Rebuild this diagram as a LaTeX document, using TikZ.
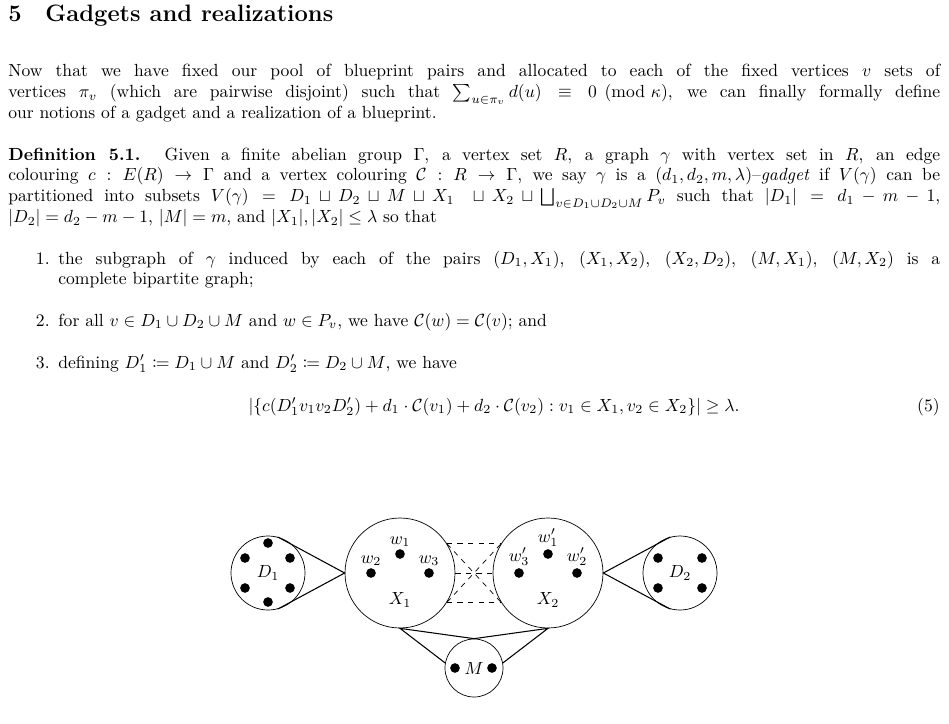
\documentclass[tikz,border=0pt]{standalone}
\usepackage{amsmath,amssymb,mathtools}
\usepackage{tikz}
\usetikzlibrary{positioning,calc}

\tikzset{
  txt/.style = {anchor = base west, inner sep = 0pt, font = \fontsize{10}{11.9}\selectfont},
  blob/.style = {draw, circle, inner sep = 0pt},
  pt/.style = {fill = black, circle, inner sep = 0pt, minimum size = 5.5pt},
  wlab/.style = {label = {[inner sep = 1pt]above:#1}},
  link/.style = {semithick},
  cross/.style = {dashed, thin}
}
\newcommand{\parblock}[2]{\parbox[t]{#1}{\fontsize{10}{11.9}\selectfont #2}}

\begin{document}
\begin{tikzpicture}[x = 0.02cm, y = -0.02cm]

\useasboundingbox (0, 0) rectangle (949, 723);

% section heading
\node[anchor = base west, inner sep = 0pt, font = \fontsize{13.5}{16}\bfseries] (head) at (8, 22) {5\hspace{1em}Gadgets and realizations};

\node[txt] (par1) at (8, 77) {\parblock{18.64cm}{Now that we have fixed our pool of blueprint pairs and allocated to each of the fixed vertices $v$ sets of\linebreak vertices $\pi_v$ (which are pairwise disjoint) such that $\sum_{u\in\pi_v} d(u) \equiv 0 \pmod{\kappa}$, we can finally formally define\linebreak our notions of a gadget and a realization of a blueprint.}};

\node[txt] (defn) at (8, 160) {\parblock{18.64cm}{\textbf{Definition 5.1.} Given a finite abelian group $\Gamma$, a vertex set $R$, a graph $\gamma$ with vertex set in $R$, an edge\linebreak colouring $c : E(R) \to \Gamma$ and a vertex colouring $\mathcal{C} : R \to \Gamma$, we say $\gamma$ is a $(d_1, d_2, m, \lambda)$--\emph{gadget} if $V(\gamma)$ can be\linebreak partitioned into subsets $V(\gamma) = D_1 \sqcup D_2 \sqcup M \sqcup X_1 \ \sqcup X_2 \sqcup \bigsqcup_{v\in D_1\cup D_2\cup M} P_v$ such that $|D_1| = d_1 - m - 1$,\linebreak $|D_2| = d_2 - m - 1$, $|M| = m$, and $|X_1|, |X_2| \le \lambda$ so that}};

% numbered items
\node[txt, anchor = base east] (n1) at (50, 264) {1.};
\node[txt] (item1) at (58, 264) {\parblock{17.64cm}{the subgraph of $\gamma$ induced by each of the pairs $(D_1, X_1)$, $(X_1, X_2)$, $(X_2, D_2)$, $(M, X_1)$, $(M, X_2)$ is a\linebreak complete bipartite graph;}};
\node[txt, anchor = base east] (n2) at (50, 326) {2.};
\node[txt] (item2) at (58, 326) {for all $v \in D_1 \cup D_2 \cup M$ and $w \in P_v$, we have $\mathcal{C}(w) = \mathcal{C}(v)$; and};
\node[txt, anchor = base east] (n3) at (50, 368) {3.};
\node[txt] (item3) at (58, 368) {defining $D_1' \coloneqq D_1 \cup M$ and $D_2' \coloneqq D_2 \cup M$, we have};
\node[txt, anchor = base] (eq) at (494, 411) {$|\{c(D_1'v_1v_2D_2') + d_1 \cdot \mathcal{C}(v_1) + d_2 \cdot \mathcal{C}(v_2) : v_1 \in X_1, v_2 \in X_2\}| \ge \lambda.$};
\node[txt, anchor = base east] (eqno) at (940, 411) {(5)};

% the gadget
\node[blob, minimum size = 74*0.02cm] (D1) at (268, 573) {};
\node[blob, minimum size = 110*0.02cm] (X1) at (400, 573) {};
\node[blob, minimum size = 110*0.02cm] (X2) at (548, 573) {};
\node[blob, minimum size = 74*0.02cm] (D2) at (680, 573) {};
\node[blob, minimum size = 58*0.02cm] (M) at (474, 668) {};

\node at (D1) {$D_1$};
\node at (D2) {$D_2$};
\node at (M) {$M$};
\node (x1) at ($(X1) + (0, 27)$) {$X_1$};
\node (x2) at ($(X2) + (0, 27)$) {$X_2$};

\foreach \dx/\dy in {0/-30, -23/-15, 22/-15, -23/15, 22/15, 0/29}
	\node[pt] at ($(D1) + (\dx, \dy)$) {};
\foreach \dx/\dy in {-22/-15, 22/-15, -22/15, 22/15}
	\node[pt] at ($(D2) + (\dx, \dy)$) {};
\foreach \dx in {-19, 18}
	\node[pt] at ($(M) + (\dx, 0)$) {};

\node[pt, wlab = $w_1$] (w1) at ($(X1) + (0, -19)$) {};
\node[pt, wlab = $w_2$] (w2) at ($(X1) + (-29, 0)$) {};
\node[pt, wlab = $w_3$] (w3) at ($(X1) + (29, 0)$) {};
\node[pt, wlab = $w_1'$] (v1) at ($(X2) + (0, -19)$) {};
\node[pt, wlab = $w_2'$] (v2) at ($(X2) + (29, 0)$) {};
\node[pt, wlab = $w_3'$] (v3) at ($(X2) + (-29, 0)$) {};

\draw[link] (D1.75) -- (X1.west) -- (D1.-75);
\draw[link] (D2.105) -- (X2.east) -- (D2.-105);
\draw[link] (M.170) -- (X1.south) -- (M.north) -- (X2.south) -- (M.10);

\foreach \a/\b in {32/148, 0/180, -32/-148, 32/-148, -32/148}
	\draw[cross] (X1.\a) -- (X2.\b);

\end{tikzpicture}
\end{document}
